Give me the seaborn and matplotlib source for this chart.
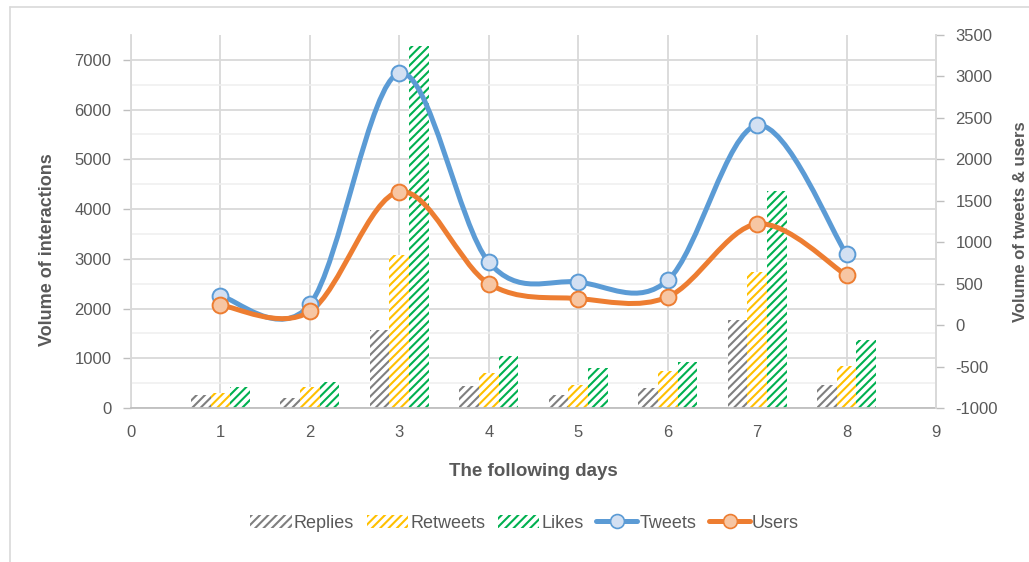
import numpy as np
import pandas as pd
import matplotlib
matplotlib.use("Agg")
import matplotlib.pyplot as plt
from matplotlib.path import Path
from matplotlib.patches import PathPatch, Patch
from matplotlib.lines import Line2D
import seaborn as sns

# Daily interaction volumes (left axis)
days = [1, 2, 3, 4, 5, 6, 7, 8]
replies = [260, 200, 1570, 440, 260, 400, 1760, 460]
retweets = [300, 420, 3080, 710, 460, 740, 2740, 850]
likes = [420, 520, 7270, 1050, 810, 920, 4370, 1370]

# Daily tweets and users (right axis)
tweets = [350, 250, 3040, 760, 520, 540, 2410, 855]
users = [240, 165, 1610, 500, 320, 340, 1220, 600]

bar_names = ["Replies", "Retweets", "Likes"]
bar_colors = ["#7F7F7F", "#FFC000", "#00B050"]
line_names = ["Tweets", "Users"]
line_colors = ["#5B9BD5", "#ED7D31"]
marker_faces = ["#D3E0F2", "#F7C6A3"]

left_ticks = list(range(0, 7001, 1000))
right_ticks = list(range(-1000, 3501, 500))
x_ticks = list(range(0, 10))

sns.set_theme(style="white")
plt.rcParams["font.family"] = ["Liberation Sans", "DejaVu Sans"]
plt.rcParams["hatch.linewidth"] = 1.5
plt.rcParams["axes.unicode_minus"] = False

TEXT = "#595959"
GRID = "#D9D9D9"
HATCH = "////"

fig = plt.figure(figsize=(10.29, 5.62), dpi=100)
ax = fig.add_axes([131 / 1029, 1 - 408 / 562, 805 / 1029, 373 / 562])

df = pd.DataFrame({
    "day": days * 3,
    "value": replies + retweets + likes,
    "series": ["Replies"] * len(days) + ["Retweets"] * len(days) + ["Likes"] * len(days),
})
sns.barplot(data=df, x="day", y="value", hue="series", hue_order=bar_names,
            palette=bar_colors, native_scale=True, width=0.66, dodge=True,
            errorbar=None, legend=False, ax=ax, zorder=2)

for cont, col in zip(ax.containers, bar_colors):
    for bar in cont:
        bar.set_facecolor("white")
        bar.set_edgecolor(col)
        bar.set_linewidth(0)
        bar.set_hatch(HATCH)

ax.set_xlim(0, 9)
ax.set_ylim(0, 7500)
ax.set_xticks(x_ticks)
ax.set_xticklabels([str(t) for t in x_ticks])
ax.set_yticks(left_ticks)
ax.set_yticks(np.arange(500, 7500, 1000), minor=True)
ax.grid(True, which="major", axis="both", color=GRID, lw=1.3, zorder=0)
ax.grid(True, which="minor", axis="y", color="#EFEFEF", lw=1.1, zorder=0)
ax.set_axisbelow(True)
ax.tick_params(axis="y", which="major", length=6, width=1, color="#BFBFBF",
               pad=8, labelsize=12, labelcolor=TEXT, left=True)
ax.tick_params(axis="y", which="minor", length=0)
ax.tick_params(axis="x", length=0, pad=12, labelsize=12, labelcolor=TEXT)
ax.spines["top"].set_visible(False)
for side in ["left", "right", "bottom"]:
    ax.spines[side].set_color(GRID)
    ax.spines[side].set_linewidth(1.3)
ax.spines["bottom"].set_color("#BFBFBF")

ax.set_xlabel("The following days", fontsize=13.5, fontweight="bold", color=TEXT)
ax.set_ylabel("Volume of interactions", fontsize=13, fontweight="bold", color=TEXT)
ax.xaxis.set_label_coords(0.5, -0.147)
ax.yaxis.set_label_coords(-0.093, 0.424)

# Secondary axis for tweets and users
ax2 = ax.twinx()
ax2.set_ylim(-1000, 3500)
ax2.set_yticks(right_ticks)
ax2.grid(False)
ax2.tick_params(axis="y", length=6, width=1, color="#BFBFBF", pad=8,
                labelsize=12, labelcolor=TEXT, right=True)
for side in ["top", "left", "bottom"]:
    ax2.spines[side].set_visible(False)
ax2.spines["right"].set_color(GRID)
ax2.spines["right"].set_linewidth(1.3)
ax2.set_ylabel("Volume of tweets & users", fontsize=12, fontweight="bold",
               color=TEXT, rotation=90)
ax2.yaxis.set_label_coords(1.096, 0.499)


def smooth_path(xs, ys):
    pts = np.column_stack([xs, ys]).astype(float)
    n = len(pts)
    verts = [pts[0]]
    codes = [Path.MOVETO]
    for i in range(n - 1):
        p0 = pts[max(i - 1, 0)]
        p1 = pts[i]
        p2 = pts[i + 1]
        p3 = pts[min(i + 2, n - 1)]
        c1 = p1 + (p2 - p0) / 6.0
        c2 = p2 - (p3 - p1) / 6.0
        verts += [c1, c2, p2]
        codes += [Path.CURVE4] * 3
    return Path(verts, codes)


for vals, col, face in zip([tweets, users], line_colors, marker_faces):
    patch = PathPatch(smooth_path(days, vals), fill=False, edgecolor=col, lw=3.6,
                      capstyle="round", joinstyle="round",
                      transform=ax2.transData, zorder=3)
    ax2.add_patch(patch)
    sns.scatterplot(x=days, y=vals, ax=ax2, s=130, color=face, edgecolor=col,
                    linewidth=1.4, zorder=4, legend=False)
ax2.set_xlim(0, 9)
ax2.set_ylim(-1000, 3500)

# Legend
handles = [Patch(facecolor="white", edgecolor=c, hatch=HATCH, lw=0) for c in bar_colors]
handles += [Line2D([], [], color=c, lw=3.6, marker="o", ms=10, mfc=f, mec=c, mew=1.2)
            for c, f in zip(line_colors, marker_faces)]
leg = fig.legend(handles, bar_names + line_names, loc="center",
                 bbox_to_anchor=(0.51, 0.069), ncol=5, frameon=False,
                 fontsize=13, handlelength=2.3, handletextpad=0.1,
                 columnspacing=0.7)
for t in leg.get_texts():
    t.set_color(TEXT)

# Chart frame
fig.add_artist(Line2D([10 / 1029, 10 / 1029], [0, 1 - 7 / 562],
                      transform=fig.transFigure, color=GRID, lw=1.2))
fig.add_artist(Line2D([10 / 1029, 1], [1 - 7 / 562, 1 - 7 / 562],
                      transform=fig.transFigure, color=GRID, lw=1.2))

fig.savefig("out.png", dpi=100)
